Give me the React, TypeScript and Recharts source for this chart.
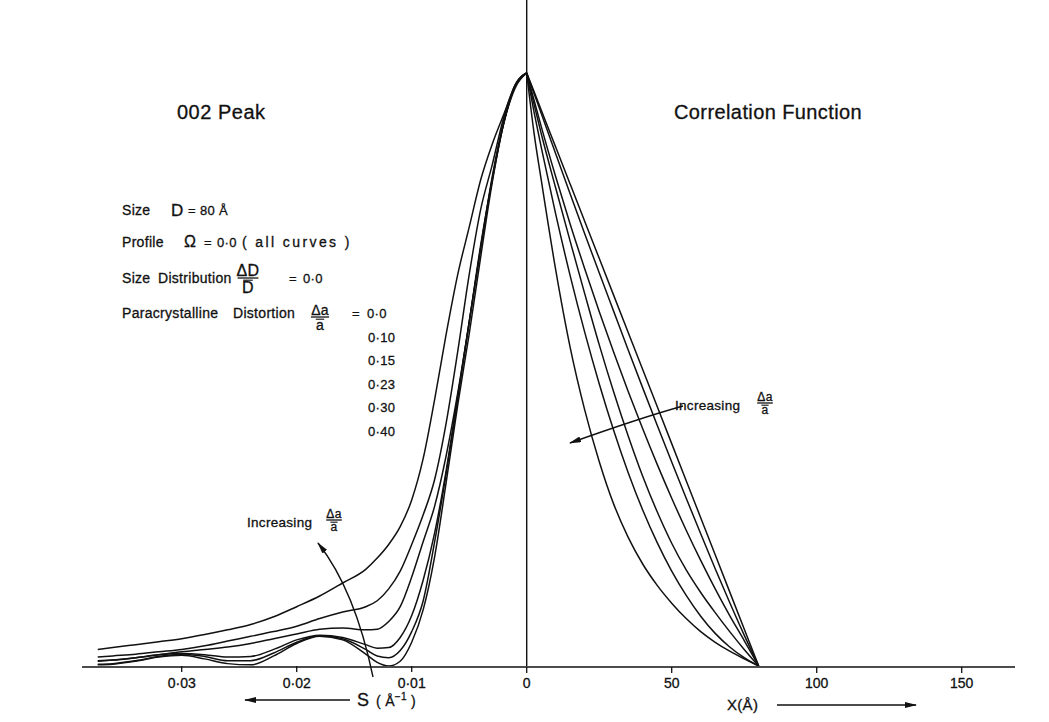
import React from 'react';
import { LineChart, Line, XAxis, YAxis, ReferenceLine } from 'recharts';

// 002 peak profiles: S (Å^-1) vs normalised intensity
const sValues = [0, 0.001, 0.002, 0.003, 0.004, 0.005, 0.006, 0.007, 0.008, 0.009, 0.01, 0.011, 0.012, 0.013, 0.014, 0.016, 0.018, 0.02, 0.022, 0.024, 0.026, 0.028, 0.03, 0.032, 0.034, 0.036, 0.0373];
const peak00 = [1, 0.98, 0.915, 0.815, 0.69, 0.56, 0.44, 0.31, 0.185, 0.095, 0.04, 0.008, 0, 0.006, 0.02, 0.044, 0.05, 0.038, 0.017, 0.002, 0.004, 0.012, 0.018, 0.015, 0.008, 0.003, 0.002];
const peak10 = [1, 0.979, 0.917, 0.825, 0.705, 0.58, 0.45, 0.325, 0.21, 0.11, 0.058, 0.026, 0.014, 0.017, 0.028, 0.046, 0.051, 0.04, 0.022, 0.009, 0.009, 0.016, 0.02, 0.016, 0.009, 0.004, 0.003];
const peak15 = [1, 0.978, 0.915, 0.82, 0.705, 0.58, 0.455, 0.33, 0.225, 0.145, 0.085, 0.048, 0.031, 0.03, 0.036, 0.048, 0.052, 0.044, 0.028, 0.016, 0.015, 0.019, 0.021, 0.019, 0.014, 0.01, 0.009];
const peak23 = [1, 0.975, 0.915, 0.82, 0.71, 0.58, 0.46, 0.355, 0.27, 0.21, 0.15, 0.1, 0.075, 0.062, 0.061, 0.064, 0.062, 0.054, 0.046, 0.038, 0.032, 0.028, 0.024, 0.019, 0.014, 0.01, 0.008];
const peak30 = [1, 0.98, 0.925, 0.845, 0.77, 0.66, 0.53, 0.41, 0.315, 0.255, 0.205, 0.16, 0.13, 0.11, 0.1, 0.091, 0.08, 0.067, 0.058, 0.05, 0.042, 0.034, 0.028, 0.024, 0.02, 0.017, 0.015];
const peak40 = [1, 0.978, 0.93, 0.88, 0.82, 0.74, 0.66, 0.56, 0.45, 0.35, 0.28, 0.235, 0.205, 0.182, 0.163, 0.14, 0.118, 0.1, 0.083, 0.07, 0.061, 0.053, 0.046, 0.041, 0.036, 0.031, 0.028];

// correlation functions: X (Å) vs normalised height
const xValues = [0, 2.5, 5, 10, 15, 20, 25, 30, 35, 40, 45, 50, 55, 60, 65, 70, 75, 80];
const corr00 = [1, 0.969, 0.9375, 0.875, 0.8125, 0.75, 0.6875, 0.625, 0.5625, 0.5, 0.4375, 0.375, 0.3125, 0.25, 0.1875, 0.125, 0.0625, 0];
const corr10 = [1, 0.966, 0.932, 0.864, 0.796, 0.729, 0.663, 0.598, 0.533, 0.469, 0.406, 0.344, 0.283, 0.223, 0.164, 0.107, 0.052, 0];
const corr15 = [1, 0.955, 0.91, 0.825, 0.745, 0.67, 0.598, 0.529, 0.463, 0.4, 0.34, 0.283, 0.229, 0.178, 0.13, 0.085, 0.043, 0];
const corr23 = [1, 0.948, 0.898, 0.806, 0.716, 0.628, 0.542, 0.462, 0.388, 0.32, 0.26, 0.207, 0.162, 0.124, 0.09, 0.058, 0.028, 0];
const corr30 = [1, 0.935, 0.875, 0.762, 0.658, 0.563, 0.476, 0.397, 0.326, 0.263, 0.208, 0.16, 0.119, 0.084, 0.055, 0.032, 0.014, 0];
const corr40 = [1, 0.9, 0.82, 0.668, 0.537, 0.432, 0.345, 0.273, 0.217, 0.172, 0.136, 0.106, 0.08, 0.058, 0.04, 0.025, 0.012, 0];

const distortions = ['0·0', '0·10', '0·15', '0·23', '0·30', '0·40'];
const sTicks = [-0.03, -0.02, -0.01];
const xTicks = [0, 50, 100, 150];

const INK = '#111';
const FONT = '"Liberation Sans", Arial, Helvetica, sans-serif';

// left half is plotted against -S so both halves grow to the right
const peakData = (vals: number[]) =>
  sValues.map((s, i) => ({ v: -s, n: vals[i] })).reverse();
const corrData = (vals: number[]) => xValues.map((X, i) => ({ X, n: vals[i] }));

const peaks = [peak00, peak10, peak15, peak23, peak30, peak40].map(peakData);
const corrs = [corr00, corr10, corr15, corr23, corr30, corr40].map(corrData);

function Frac({ x, y, num, den, size }: { x: number; y: number; num: string; den: string; size: number }) {
  const w = size * 1.3;
  return (
    <g>
      <text x={x} y={y - 2} textAnchor="middle" fontSize={size}>{num}</text>
      <line x1={x - w / 2} x2={x + w / 2} y1={y} y2={y} stroke={INK} strokeWidth={1.3} />
      <line x1={x - size * 0.3} x2={x + size * 0.3} y1={y + 2.2} y2={y + 2.2} stroke={INK} strokeWidth={1.1} />
      <text x={x} y={y + size * 0.85 + 1} textAnchor="middle" fontSize={size}>{den}</text>
    </g>
  );
}

function Annotations() {
  return (
    <svg width={1049} height={722} style={{ position: 'absolute', left: 0, top: 0, pointerEvents: 'none' }}>
      <defs>
        <marker id="head" viewBox="0 0 12 6" refX="11" refY="3" markerWidth="12" markerHeight="6" orient="auto" markerUnits="userSpaceOnUse">
          <path d="M0,0 L12,3 L0,6 Z" fill={INK} />
        </marker>
      </defs>
      <g fontFamily={FONT} fill={INK} stroke={INK} strokeWidth={0.3} letterSpacing={0.3}>
        <text x={177} y={119} fontSize={20} letterSpacing={0.5}>002  Peak</text>
        <text x={674} y={119} fontSize={20} letterSpacing={0.4}>Correlation  Function</text>

        <text x={122} y={215} fontSize={14}>Size</text>
        <text x={171} y={216} fontSize={17}>D</text>
        <text x={188} y={215} fontSize={13}>=</text>
        <text x={200} y={215} fontSize={13}>80 Å</text>

        <text x={122} y={246.5} fontSize={14}>Profile</text>
        <text x={184} y={247} fontSize={16}>Ω</text>
        <text x={204} y={246.5} fontSize={13}>=</text>
        <text x={217} y={246.5} fontSize={13}>0·0</text>
        <text x={242} y={246.5} fontSize={14} letterSpacing={2.4}>( all curves )</text>

        <text x={122} y={283} fontSize={14}>Size</text>
        <text x={158} y={283} fontSize={14}>Distribution</text>
        <Frac x={248} y={278} num="ΔD" den="D" size={16} />
        <text x={289} y={283} fontSize={13}>=</text>
        <text x={303} y={283} fontSize={13}>0·0</text>

        <text x={122} y={318} fontSize={14}>Paracrystalline</text>
        <text x={233} y={318} fontSize={14}>Distortion</text>
        <Frac x={320} y={317} num="Δa" den="a" size={14} />
        <text x={352} y={318} fontSize={13}>=</text>
        {distortions.map((d, i) => (
          <text key={d} x={i === 0 ? 367 : 368} y={318 + i * 23.6} fontSize={13}>{d}</text>
        ))}

        <text x={675} y={410} fontSize={13.5}>Increasing</text>
        <Frac x={765} y={403} num="Δa" den="a" size={12} />
        <text x={247} y={526.5} fontSize={13.5}>Increasing</text>
        <Frac x={334} y={520} num="Δa" den="a" size={12} />

        <text x={357} y={706} fontSize={18}>S</text>
        <text x={376} y={706} fontSize={14}>( Å<tspan fontSize={10} dy={-6}>−1</tspan><tspan dy={6}> )</tspan></text>
        <text x={727} y={710} fontSize={15}>X(Å)</text>
      </g>
      <g fill="none" stroke={INK} strokeWidth={1.4}>
        <path d="M373,677 Q355,590 318,543" markerEnd="url(#head)" />
        <path d="M683,406 Q640,418 570,443" markerEnd="url(#head)" />
        <path d="M350,700 L245,700" markerEnd="url(#head)" />
        <path d="M777,705 L916,705" markerEnd="url(#head)" />
      </g>
    </svg>
  );
}

const tickStyle = { fontSize: 14, fill: INK, fontFamily: FONT, stroke: INK, strokeWidth: 0.3 };

export default function App() {
  return (
    <div style={{ position: 'absolute', left: 0, top: 0, width: 1049, height: 722, background: '#fff' }}>
      <LineChart width={1049} height={722} margin={{ top: 0, right: 34, bottom: 54, left: 82 }}>
        {/* pixel layout: 0 sits at x=526.7, 0.01 Å^-1 = 115 px, 50 Å = 145 px */}
        <XAxis
          xAxisId="s"
          type="number"
          dataKey="v"
          domain={[-0.03867, 0.042461]}
          allowDataOverflow
          ticks={sTicks}
          interval={0}
          tickFormatter={(v: number) => Math.abs(v).toFixed(2).replace('.', '·')}
          axisLine={false}
          tickLine={{ stroke: INK, strokeWidth: 1.3 }}
          tickSize={6}
          tickMargin={6}
          height={1}
          tick={tickStyle}
        />
        <XAxis
          xAxisId="x"
          type="number"
          dataKey="X"
          domain={[-153.345, 168.379]}
          allowDataOverflow
          ticks={xTicks}
          interval={0}
          axisLine={{ stroke: INK, strokeWidth: 1.5 }}
          tickLine={{ stroke: INK, strokeWidth: 1.3 }}
          tickSize={6}
          tickMargin={5}
          height={1}
          tick={tickStyle}
        />
        <YAxis hide type="number" domain={[0, 666 / 593]} allowDataOverflow />
        <ReferenceLine xAxisId="x" x={0} stroke={INK} strokeWidth={1.4} />
        {peaks.map((d, i) => (
          <Line
            key={'p' + i}
            xAxisId="s"
            data={d}
            dataKey="n"
            type="monotone"
            dot={false}
            stroke={INK}
            strokeWidth={1.5}
            isAnimationActive={false}
          />
        ))}
        {corrs.map((d, i) => (
          <Line
            key={'c' + i}
            xAxisId="x"
            data={d}
            dataKey="n"
            type="monotone"
            dot={false}
            stroke={INK}
            strokeWidth={1.5}
            isAnimationActive={false}
          />
        ))}
      </LineChart>
      <Annotations />
    </div>
  );
}
